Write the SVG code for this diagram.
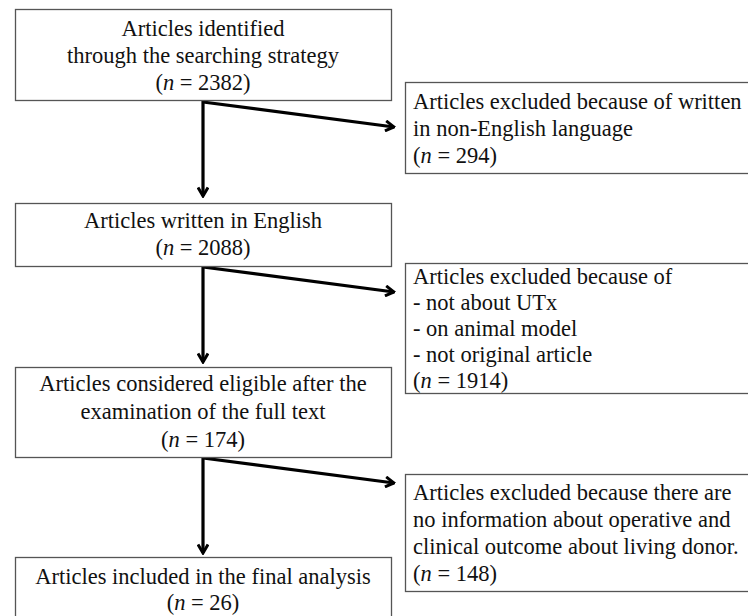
<svg xmlns="http://www.w3.org/2000/svg" width="748" height="616" viewBox="0 0 748 616">
<style>
.box{fill:#fff;stroke:#555;stroke-width:1.3}
text{font-family:"Liberation Serif","Times New Roman",serif;font-size:22.5px;fill:#111}
.c{text-anchor:middle}
.conn{fill:none;stroke:#000;stroke-width:3.2;stroke-linejoin:miter}
</style>
<defs>
<marker id="ah" viewBox="0 0 12 12" refX="10.5" refY="6" markerWidth="12" markerHeight="12" markerUnits="userSpaceOnUse" orient="auto">
<path d="M2,1 L10.5,6 L2,11" fill="none" stroke="#000" stroke-width="3"/>
</marker>
</defs>
<rect width="748" height="616" fill="#fff"/>
<g id="connectors">
<path class="conn" d="M203,101 L203,196" marker-end="url(#ah)"/>
<path class="conn" d="M203,102 L394,127" marker-end="url(#ah)"/>
<path class="conn" d="M203,266 L203,362" marker-end="url(#ah)"/>
<path class="conn" d="M203,267 L394,292" marker-end="url(#ah)"/>
<path class="conn" d="M203,457 L203,553" marker-end="url(#ah)"/>
<path class="conn" d="M203,458 L394,483" marker-end="url(#ah)"/>
</g>
<g id="n1">
<rect class="box" x="15.5" y="9.5" width="376" height="91"/>
<text class="c" x="203" y="36">Articles identified</text>
<text class="c" x="203" y="63">through the searching strategy</text>
<text class="c" x="203" y="90">(<tspan font-style="italic">n</tspan> = 2382)</text>
</g>
<g id="n2">
<rect class="box" x="405.5" y="82.5" width="350" height="91"/>
<text x="413" y="109">Articles excluded because of written</text>
<text x="413" y="136">in non-English language</text>
<text x="413" y="163">(<tspan font-style="italic">n</tspan> = 294)</text>
</g>
<g id="n3">
<rect class="box" x="15.5" y="203.5" width="376" height="63"/>
<text class="c" x="203" y="228">Articles written in English</text>
<text class="c" x="203" y="255">(<tspan font-style="italic">n</tspan> = 2088)</text>
</g>
<g id="n4">
<rect class="box" x="405.5" y="263.5" width="350" height="130"/>
<text x="413" y="284">Articles excluded because of</text>
<text x="413" y="310">- not about UTx</text>
<text x="413" y="336">- on animal model</text>
<text x="413" y="362">- not original article</text>
<text x="413" y="388">(<tspan font-style="italic">n</tspan> = 1914)</text>
</g>
<g id="n5">
<rect class="box" x="15.5" y="367.5" width="376" height="90"/>
<text class="c" x="203" y="391">Articles considered eligible after the</text>
<text class="c" x="203" y="419">examination of the full text</text>
<text class="c" x="203" y="447">(<tspan font-style="italic">n</tspan> = 174)</text>
</g>
<g id="n6">
<rect class="box" x="405.5" y="474.5" width="350" height="117"/>
<text x="413" y="500">Articles excluded because there are</text>
<text x="413" y="527">no information about operative and</text>
<text x="413" y="554">clinical outcome about living donor.</text>
<text x="413" y="581">(<tspan font-style="italic">n</tspan> = 148)</text>
</g>
<g id="n7">
<rect class="box" x="15.5" y="557.5" width="376" height="70"/>
<text class="c" x="203" y="584">Articles included in the final analysis</text>
<text class="c" x="203" y="610">(<tspan font-style="italic">n</tspan> = 26)</text>
</g>
</svg>
